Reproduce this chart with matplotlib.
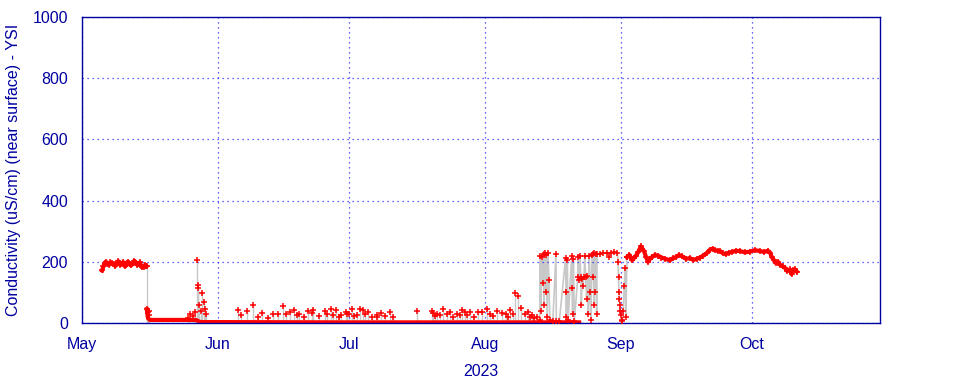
import matplotlib
matplotlib.use('Agg')
import matplotlib.pyplot as plt
import matplotlib.dates as mdates
import pandas as pd

start = pd.Timestamp('2023-05-01')

# times are day offsets from 1 May 2023, values in uS/cm
may_t = [4.6, 4.9, 5.2, 5.5, 5.8, 6.2, 6.5, 6.9, 7.2, 7.6, 8.0, 8.3, 8.7, 9.0, 9.4, 9.8,
         10.1, 10.4, 10.8, 11.1, 11.5, 11.9, 12.2, 12.6, 12.9, 13.2, 13.5, 13.8, 14.1, 14.4, 14.7]
may_v = [172, 185, 196, 200, 193, 190, 198, 195, 192, 186, 197, 202, 190, 194, 199, 185,
         188, 200, 196, 188, 192, 203, 200, 190, 194, 198, 187, 182, 183, 190, 185]

base_t = [14.8, 14.9, 15.1, 15.5, 26.0, 27.0, 60.0, 113.5]
base_v = [45, 30, 15, 10, 10, 3, 2, 2]

# isolated readings during the low period
spike_t = [14.8, 14.9, 15.0, 15.2, 15.4, 24.3, 24.7, 25.3, 25.8, 26.3, 26.4, 26.6, 26.8, 27.1,
           27.5, 27.8, 28.0, 28.3, 35.6, 36.4, 37.7, 39.1, 40.2, 41.1, 42.5, 43.6, 44.7,
           46.0, 46.6, 47.4, 48.4, 49.0, 49.5, 50.7, 51.6, 52.6, 52.7, 54.1, 55.5, 56.0,
           56.8, 57.4, 58.0, 58.6, 59.2, 60.3, 60.6, 61.0, 61.6, 62.2, 62.7, 63.4, 64.1,
           64.7, 65.3, 66.2, 67.3, 67.4, 68.3, 69.2, 70.4, 71.0, 76.5, 79.9, 80.2, 80.7,
           81.1, 81.8, 82.4, 83.3, 84.0, 84.7, 85.6, 86.2, 86.8, 87.4, 87.9, 88.6, 89.5,
           90.4, 91.3, 92.5, 93.1, 93.9, 94.8, 95.9, 96.7, 97.3, 97.8, 98.3, 98.9, 99.6,
           100.3, 101.1, 101.8, 102.2, 102.8, 103.3, 103.9]
spike_v = [185, 45, 35, 25, 40, 15, 28, 22, 35, 205, 125, 115, 60, 40,
           98, 70, 45, 30, 43, 25, 40, 59, 20, 33, 15, 28, 30,
           55, 30, 35, 42, 25, 30, 20, 40, 32, 41, 22, 38, 30,
           45, 27, 44, 20, 26, 35, 30, 28, 47, 22, 25, 47, 41,
           30, 35, 20, 25, 18, 32, 22, 35, 20, 38, 38, 33, 22,
           30, 27, 46, 28, 35, 18, 30, 25, 42, 35, 26, 37, 20,
           35, 35, 46, 30, 22, 40, 32, 28, 20, 42, 30, 99, 88,
           49, 30, 36, 20, 25, 15, 20]

# mixed readings in late August
aug_t = [104.5, 104.6, 104.8, 105.0, 105.2, 105.4, 105.5, 105.7, 105.9, 106.0, 106.2, 106.4,
         106.6, 106.8, 107.5, 108.2, 108.3, 109.0, 110.4, 110.5, 110.6, 110.8, 111.0, 111.8,
         111.9, 112.0, 112.2, 112.4, 113.2, 113.3, 113.5, 113.7, 113.9, 114.0, 114.2, 114.4,
         114.6, 114.8, 115.0, 115.2, 115.4, 115.6, 115.8, 116.0, 116.2, 116.4, 116.6, 116.7,
         116.9, 117.0, 117.2, 117.3, 117.5, 117.6, 118.2, 119.0, 119.8, 120.3, 120.8, 121.5,
         122.2, 122.4, 122.5, 122.6, 122.7, 122.8, 122.9, 123.0, 123.2, 123.4, 123.6, 123.8,
         124.0, 124.2, 124.4]
aug_v = [10, 220, 40, 215, 130, 225, 60, 228, 100, 222, 20, 230,
         140, 10, 5, 225, 5, 8, 212, 100, 20, 205, 10, 220,
         115, 30, 210, 5, 150, 215, 140, 220, 150, 60, 145, 120,
         150, 218, 150, 80, 155, 30, 220, 100, 10, 222, 150, 225,
         60, 228, 100, 226, 30, 225, 225, 228, 230, 215, 228, 232,
         230, 200, 150, 100, 80, 60, 40, 25, 10, 5, 40, 120,
         180, 20, 215]

sep_t = [124.4, 125.0, 125.6, 126.0, 126.5, 127.0, 127.6, 128.3, 128.8, 129.2, 129.7, 130.1,
         130.8, 131.5, 132.3, 133.1, 134.2, 135.0, 135.6, 136.3, 137.0, 137.9, 138.8, 139.6,
         140.4, 141.1, 141.8, 142.6, 143.4, 144.0, 144.5, 145.1, 145.7, 146.3, 147.0, 147.7,
         148.4, 149.3, 150.2, 151.3, 152.5, 153.6, 154.8, 155.7, 156.6, 157.1, 157.5, 158.0,
         158.4, 158.9, 159.4, 160.0, 160.5, 161.0, 161.6, 162.0, 162.3, 162.8, 163.2]
sep_v = [215, 222, 205, 212, 220, 232, 250, 235, 215, 200, 210, 215,
         222, 220, 214, 210, 205, 212, 215, 222, 218, 210, 212, 206,
         210, 214, 220, 228, 240, 243, 238, 236, 235, 228, 225, 230,
         232, 236, 235, 231, 233, 238, 235, 232, 236, 230, 215, 205,
         196, 200, 190, 185, 180, 170, 175, 160, 172, 175, 168]


def to_dates(days):
    return [start + pd.Timedelta(days=d) for d in days]


dark = '#0000a0'
plt.rcParams['font.family'] = ['Liberation Sans', 'DejaVu Sans']
plt.rcParams['font.size'] = 11.5

fig = plt.figure(figsize=(9.6, 3.84), dpi=100)
ax = fig.add_axes([0.0854, 0.1589, 0.8313, 0.7968])

# grey connecting lines
ax.vlines(to_dates(spike_t), 0, spike_v, color='#c8c8c8', lw=1, zorder=1)
ax.plot(to_dates(aug_t), aug_v, color='#c8c8c8', lw=1.2, zorder=1)

# readings
ax.plot(to_dates(base_t), base_v, color='red', lw=3, zorder=2)
ax.plot(to_dates(spike_t), spike_v, 'r+', ms=4.5, mew=1.1, zorder=3)
ax.plot(to_dates(aug_t), aug_v, 'r+', ms=4.5, mew=1.1, zorder=3)
for t, v in [(may_t, may_v), (sep_t, sep_v)]:
    ax.plot(to_dates(t), v, color='red', lw=3, zorder=3)
    ax.plot(to_dates(t), v, 'r+', ms=4.5, mew=1.1, zorder=3)

ax.set_xlim(start, start + pd.Timedelta(days=182.2))
ax.set_ylim(0, 1000)
ax.set_yticks([0, 200, 400, 600, 800, 1000])
ax.xaxis.set_major_locator(mdates.MonthLocator())
ax.xaxis.set_major_formatter(mdates.DateFormatter('%b'))

ax.grid(True, color='#3030ff', linestyle=(0, (1, 3)), lw=0.9)
ax.tick_params(length=0, colors=dark, labelsize=11.5, pad=10)
for s in ax.spines.values():
    s.set_color(dark)
    s.set_linewidth(1)

ax.set_ylabel('Conductivity (uS/cm) (near surface) - YSI', color=dark, labelpad=8)
ax.set_xlabel('2023', color=dark, labelpad=9)

fig.savefig('out.png', dpi=100)
